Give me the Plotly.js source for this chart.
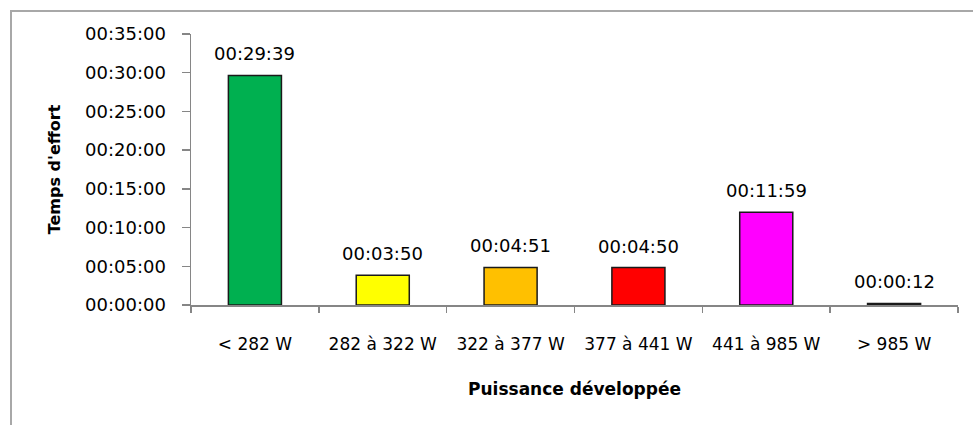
<!DOCTYPE html>
<html>
<head>
<meta charset="utf-8">
<script src="https://cdn.plot.ly/plotly-3.0.1.min.js"></script>
<style>
  html, body { margin: 0; padding: 0; background: #fff; }
  #chart { width: 973px; height: 425px; position: relative; }
  #frame { position: absolute; left: 10px; top: 10px; width: 980px; height: 430px;
           border: 2px solid #a8a8a8; pointer-events: none; box-sizing: border-box; }
</style>
</head>
<body>
<div id="chart"></div>
<div id="frame"></div>
<script>
const categories = ["< 282 W", "282 à 322 W", "322 à 377 W", "377 à 441 W", "441 à 985 W", "> 985 W"];
const durationsSec = [1779, 230, 291, 290, 719, 12];
const durationLabels = ["00:29:39", "00:03:50", "00:04:51", "00:04:50", "00:11:59", "00:00:12"];
const barColors = ["#00B050", "#FFFF00", "#FFC000", "#FF0000", "#FF00FF", "#000000"];
const yTickVals = [0, 300, 600, 900, 1200, 1500, 1800, 2100];
const yTickText = ["00:00:00", "00:05:00", "00:10:00", "00:15:00", "00:20:00", "00:25:00", "00:30:00", "00:35:00"];

const font = "DejaVu Sans, sans-serif";

const trace = {
  type: "bar",
  x: categories,
  y: durationsSec,
  marker: { color: barColors, line: { color: "#1a1a1a", width: 1.5 } },
  hoverinfo: "none"
};

const annotations = categories.map((c, i) => ({
  x: c, y: durationsSec[i], xref: "x", yref: "y",
  text: durationLabels[i], showarrow: false,
  yanchor: "bottom", yshift: 9,
  font: { family: font, size: 18, color: "#000" }
}));

const layout = {
  width: 973, height: 425,
  margin: { l: 191, r: 15, t: 34, b: 120 },
  paper_bgcolor: "#fff", plot_bgcolor: "#fff",
  bargap: 0.585,
  showlegend: false,
  font: { family: font, color: "#000" },
  annotations: annotations,
  xaxis: {
    type: "category",
    showline: true, linecolor: "#868686", linewidth: 1.5,
    ticks: "outside", tickson: "boundaries", ticklen: 6, tickcolor: "#868686", tickwidth: 1.5,
    tickfont: { family: font, size: 17, color: "#000" },
    ticklabelstandoff: 23,
    showgrid: false, zeroline: false,
    title: { text: "Puissance développée", font: { family: font, size: 17, weight: "bold", color: "#000" }, standoff: 30 }
  },
  yaxis: {
    range: [0, 2100],
    tickvals: yTickVals, ticktext: yTickText,
    showline: true, linecolor: "#868686", linewidth: 1.5,
    ticks: "outside", ticklen: 8, tickcolor: "#868686", tickwidth: 1.5,
    tickfont: { family: font, size: 18, color: "#000" },
    ticklabelstandoff: 12,
    showgrid: false, zeroline: false,
    title: { text: "Temps d'effort", font: { family: font, size: 16, weight: "bold", color: "#000" }, standoff: 20 }
  }
};

Plotly.newPlot("chart", [trace], layout, { displayModeBar: false, staticPlot: true });
</script>
</body>
</html>
